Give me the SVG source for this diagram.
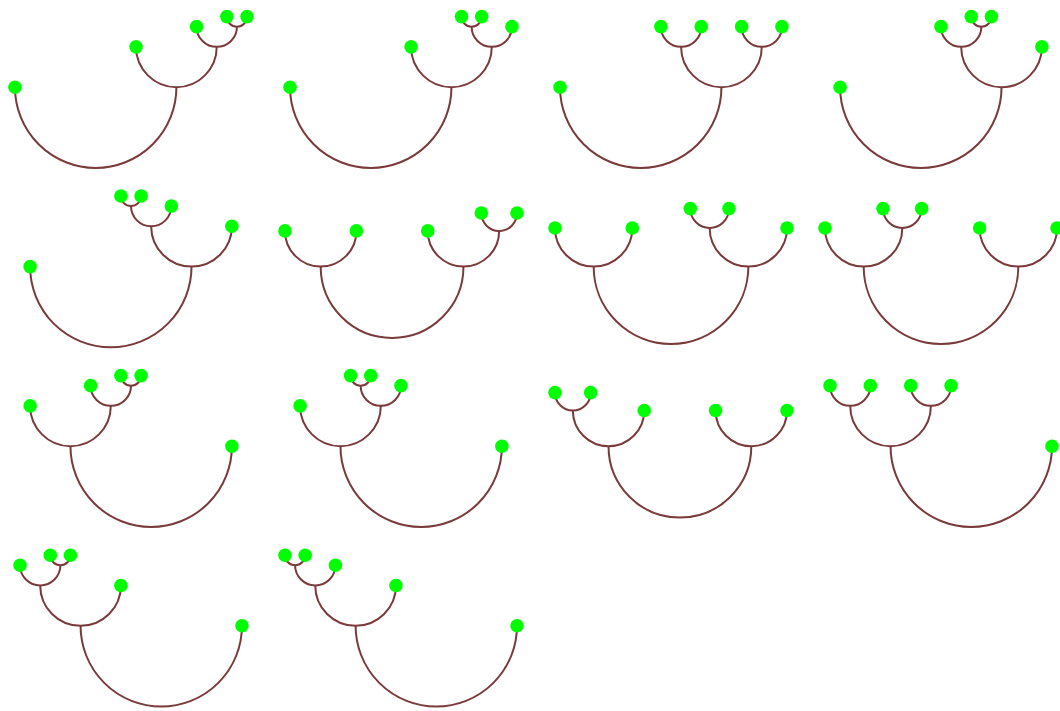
<svg xmlns="http://www.w3.org/2000/svg" xmlns:xlink="http://www.w3.org/1999/xlink" width="1060" height="711" viewBox="0 0 1060 711">
<style>
.arc{fill:none;stroke:#7a3a3a;stroke-width:2;vector-effect:non-scaling-stroke}
.dot{fill:#00ff00}
</style>
<defs>
<path id="a80" class="arc" d="M-80 0A80 80 0 0 0 80 0"/>
<path id="a40" class="arc" d="M-40 0A40 40 0 0 0 40 0"/>
<path id="a20" class="arc" d="M-20 0A20 20 0 0 0 20 0"/>
<path id="a10" class="arc" d="M-10 0A10 10 0 0 0 10 0"/>
<circle id="dA" class="dot" r="6.74"/>
<circle id="dB" class="dot" r="7.62"/>
<circle id="dC" class="dot" r="7.03"/>
</defs>
<rect width="1060" height="711" fill="#fff"/>

<g id="tree1" transform="translate(95.69,87.2) scale(1.0088)">
<g id="tree1-connectors"><use href="#a80"/><use href="#a40" x="80" y="-40"/><use href="#a20" x="120" y="-60"/><use href="#a10" x="140" y="-70"/></g>
<g id="t1a"><use href="#dA" x="-80" y="0"/></g><g id="t1b"><use href="#dA" x="40" y="-40"/></g><g id="t1c"><use href="#dA" x="100" y="-60"/></g><g id="t1d"><use href="#dA" x="130" y="-70"/></g><g id="t1e"><use href="#dA" x="150" y="-70"/></g>
</g>

<g id="tree2" transform="translate(370.74,87.2) scale(1.0088)">
<g id="tree2-connectors"><use href="#a80"/><use href="#a40" x="80" y="-40"/><use href="#a20" x="120" y="-60"/><use href="#a10" x="100" y="-70"/></g>
<g id="t2a"><use href="#dA" x="-80" y="0"/></g><g id="t2b"><use href="#dA" x="40" y="-40"/></g><g id="t2c"><use href="#dA" x="90" y="-70"/></g><g id="t2d"><use href="#dA" x="110" y="-70"/></g><g id="t2e"><use href="#dA" x="140" y="-60"/></g>
</g>

<g id="tree3" transform="translate(640.74,87.2) scale(1.0088)">
<g id="tree3-connectors"><use href="#a80"/><use href="#a40" x="80" y="-40"/><use href="#a20" x="40" y="-60"/><use href="#a20" x="120" y="-60"/></g>
<g id="t3a"><use href="#dA" x="-80" y="0"/></g><g id="t3b"><use href="#dA" x="20" y="-60"/></g><g id="t3c"><use href="#dA" x="60" y="-60"/></g><g id="t3d"><use href="#dA" x="100" y="-60"/></g><g id="t3e"><use href="#dA" x="140" y="-60"/></g>
</g>

<g id="tree4" transform="translate(920.82,87.2) scale(1.0088)">
<g id="tree4-connectors"><use href="#a80"/><use href="#a40" x="80" y="-40"/><use href="#a20" x="40" y="-60"/><use href="#a10" x="60" y="-70"/></g>
<g id="t4a"><use href="#dA" x="-80" y="0"/></g><g id="t4b"><use href="#dA" x="20" y="-60"/></g><g id="t4c"><use href="#dA" x="50" y="-70"/></g><g id="t4d"><use href="#dA" x="70" y="-70"/></g><g id="t4e"><use href="#dA" x="120" y="-40"/></g>
</g>

<g id="tree5" transform="translate(110.82,266.6) scale(1.0088)">
<g id="tree5-connectors"><use href="#a80"/><use href="#a40" x="80" y="-40"/><use href="#a20" x="40" y="-60"/><use href="#a10" x="20" y="-70"/></g>
<g id="t5a"><use href="#dA" x="-80" y="0"/></g><g id="t5b"><use href="#dA" x="10" y="-70"/></g><g id="t5c"><use href="#dA" x="30" y="-70"/></g><g id="t5d"><use href="#dA" x="60" y="-60"/></g><g id="t5e"><use href="#dA" x="120" y="-40"/></g>
</g>

<g id="tree6" transform="translate(392.08,266.6) scale(0.8923)">
<g id="tree6-connectors"><use href="#a80"/><use href="#a40" x="-80" y="-40"/><use href="#a40" x="80" y="-40"/><use href="#a20" x="120" y="-60"/></g>
<g id="t6a"><use href="#dB" x="-120" y="-40"/></g><g id="t6b"><use href="#dB" x="-40" y="-40"/></g><g id="t6c"><use href="#dB" x="40" y="-40"/></g><g id="t6d"><use href="#dB" x="100" y="-60"/></g><g id="t6e"><use href="#dB" x="140" y="-60"/></g>
</g>

<g id="tree7" transform="translate(671,266.6) scale(0.9667)">
<g id="tree7-connectors"><use href="#a80"/><use href="#a40" x="-80" y="-40"/><use href="#a40" x="80" y="-40"/><use href="#a20" x="40" y="-60"/></g>
<g id="t7a"><use href="#dC" x="-120" y="-40"/></g><g id="t7b"><use href="#dC" x="-40" y="-40"/></g><g id="t7c"><use href="#dC" x="20" y="-60"/></g><g id="t7d"><use href="#dC" x="60" y="-60"/></g><g id="t7e"><use href="#dC" x="120" y="-40"/></g>
</g>

<g id="tree8" transform="translate(941,266.6) scale(0.9667)">
<g id="tree8-connectors"><use href="#a80"/><use href="#a40" x="-80" y="-40"/><use href="#a20" x="-40" y="-60"/><use href="#a40" x="80" y="-40"/></g>
<g id="t8a"><use href="#dC" x="-120" y="-40"/></g><g id="t8b"><use href="#dC" x="-60" y="-60"/></g><g id="t8c"><use href="#dC" x="-20" y="-60"/></g><g id="t8d"><use href="#dC" x="40" y="-40"/></g><g id="t8e"><use href="#dC" x="120" y="-40"/></g>
</g>

<g id="tree9" transform="translate(151.18,446.2) scale(1.0088)">
<g id="tree9-connectors"><use href="#a80"/><use href="#a40" x="-80" y="-40"/><use href="#a20" x="-40" y="-60"/><use href="#a10" x="-20" y="-70"/></g>
<g id="t9a"><use href="#dA" x="-120" y="-40"/></g><g id="t9b"><use href="#dA" x="-60" y="-60"/></g><g id="t9c"><use href="#dA" x="-30" y="-70"/></g><g id="t9d"><use href="#dA" x="-10" y="-70"/></g><g id="t9e"><use href="#dA" x="80" y="0"/></g>
</g>

<g id="tree10" transform="translate(421.18,446.2) scale(1.0088)">
<g id="tree10-connectors"><use href="#a80"/><use href="#a40" x="-80" y="-40"/><use href="#a20" x="-40" y="-60"/><use href="#a10" x="-60" y="-70"/></g>
<g id="t10a"><use href="#dA" x="-120" y="-40"/></g><g id="t10b"><use href="#dA" x="-70" y="-70"/></g><g id="t10c"><use href="#dA" x="-50" y="-70"/></g><g id="t10d"><use href="#dA" x="-20" y="-60"/></g><g id="t10e"><use href="#dA" x="80" y="0"/></g>
</g>

<g id="tree11" transform="translate(679.92,446.2) scale(0.8923)">
<g id="tree11-connectors"><use href="#a80"/><use href="#a40" x="-80" y="-40"/><use href="#a20" x="-120" y="-60"/><use href="#a40" x="80" y="-40"/></g>
<g id="t11a"><use href="#dB" x="-140" y="-60"/></g><g id="t11b"><use href="#dB" x="-100" y="-60"/></g><g id="t11c"><use href="#dB" x="-40" y="-40"/></g><g id="t11d"><use href="#dB" x="40" y="-40"/></g><g id="t11e"><use href="#dB" x="120" y="-40"/></g>
</g>

<g id="tree12" transform="translate(971.26,446.2) scale(1.0088)">
<g id="tree12-connectors"><use href="#a80"/><use href="#a40" x="-80" y="-40"/><use href="#a20" x="-120" y="-60"/><use href="#a20" x="-40" y="-60"/></g>
<g id="t12a"><use href="#dA" x="-140" y="-60"/></g><g id="t12b"><use href="#dA" x="-100" y="-60"/></g><g id="t12c"><use href="#dA" x="-60" y="-60"/></g><g id="t12d"><use href="#dA" x="-20" y="-60"/></g><g id="t12e"><use href="#dA" x="80" y="0"/></g>
</g>

<g id="tree13" transform="translate(161.26,625.8) scale(1.0088)">
<g id="tree13-connectors"><use href="#a80"/><use href="#a40" x="-80" y="-40"/><use href="#a20" x="-120" y="-60"/><use href="#a10" x="-100" y="-70"/></g>
<g id="t13a"><use href="#dA" x="-140" y="-60"/></g><g id="t13b"><use href="#dA" x="-110" y="-70"/></g><g id="t13c"><use href="#dA" x="-90" y="-70"/></g><g id="t13d"><use href="#dA" x="-40" y="-40"/></g><g id="t13e"><use href="#dA" x="80" y="0"/></g>
</g>

<g id="tree14" transform="translate(436.31,625.8) scale(1.0088)">
<g id="tree14-connectors"><use href="#a80"/><use href="#a40" x="-80" y="-40"/><use href="#a20" x="-120" y="-60"/><use href="#a10" x="-140" y="-70"/></g>
<g id="t14a"><use href="#dA" x="-150" y="-70"/></g><g id="t14b"><use href="#dA" x="-130" y="-70"/></g><g id="t14c"><use href="#dA" x="-100" y="-60"/></g><g id="t14d"><use href="#dA" x="-40" y="-40"/></g><g id="t14e"><use href="#dA" x="80" y="0"/></g>
</g>
</svg>
